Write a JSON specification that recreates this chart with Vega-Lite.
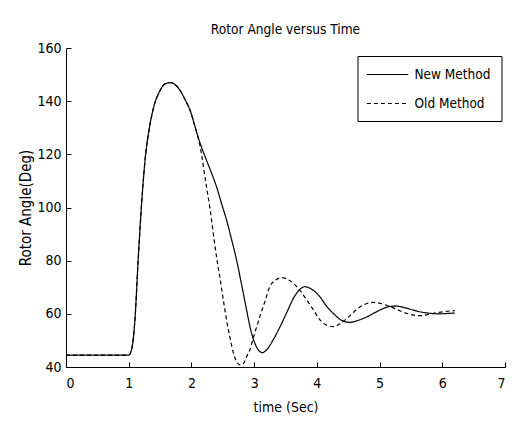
{
  "$schema": "https://vega.github.io/schema/vega-lite/v6.json",
  "width": 439,
  "height": 319,
  "autosize": {"type": "none"},
  "padding": {"left": 66, "top": 48, "right": 12, "bottom": 62},
  "background": "white",
  "title": {
    "text": "Rotor Angle versus Time",
    "font": "DejaVu Sans Condensed, Liberation Sans, sans-serif",
    "fontSize": 13.6,
    "fontWeight": "normal",
    "color": "black",
    "offset": 4
  },
  "config": {
    "view": {"stroke": null},
    "axis": {
      "grid": false,
      "domainColor": "black",
      "tickColor": "black",
      "labelColor": "black",
      "titleColor": "black",
      "labelFont": "DejaVu Sans Condensed, Liberation Sans, sans-serif",
      "labelFontSize": 14,
      "titleFont": "DejaVu Sans Condensed, Liberation Sans, sans-serif",
      "titleFontSize": 14,
      "titleFontWeight": "normal",
      "tickSize": -5
    }
  },
  "data": {
    "values": [
      {"t": 0, "v": 44.5, "method": "New Method"},
      {"t": 1.0, "v": 44.5, "method": "New Method"},
      {"t": 1.05, "v": 47, "method": "New Method"},
      {"t": 1.1, "v": 58, "method": "New Method"},
      {"t": 1.15, "v": 80, "method": "New Method"},
      {"t": 1.21, "v": 103, "method": "New Method"},
      {"t": 1.27, "v": 120, "method": "New Method"},
      {"t": 1.33, "v": 130, "method": "New Method"},
      {"t": 1.39, "v": 137, "method": "New Method"},
      {"t": 1.5, "v": 144, "method": "New Method"},
      {"t": 1.58, "v": 146.5, "method": "New Method"},
      {"t": 1.67, "v": 147, "method": "New Method"},
      {"t": 1.75, "v": 146, "method": "New Method"},
      {"t": 1.82, "v": 144, "method": "New Method"},
      {"t": 1.9, "v": 140.5, "method": "New Method"},
      {"t": 1.98, "v": 136.5, "method": "New Method"},
      {"t": 2.05, "v": 131, "method": "New Method"},
      {"t": 2.12, "v": 125.5, "method": "New Method"},
      {"t": 2.24, "v": 117.8, "method": "New Method"},
      {"t": 2.32, "v": 113, "method": "New Method"},
      {"t": 2.4, "v": 107.8, "method": "New Method"},
      {"t": 2.48, "v": 101.5, "method": "New Method"},
      {"t": 2.56, "v": 95.3, "method": "New Method"},
      {"t": 2.64, "v": 88, "method": "New Method"},
      {"t": 2.72, "v": 80.2, "method": "New Method"},
      {"t": 2.8, "v": 71, "method": "New Method"},
      {"t": 2.88, "v": 61.4, "method": "New Method"},
      {"t": 2.95, "v": 53.5, "method": "New Method"},
      {"t": 3.01, "v": 49, "method": "New Method"},
      {"t": 3.07, "v": 46.3, "method": "New Method"},
      {"t": 3.13, "v": 45.4, "method": "New Method"},
      {"t": 3.2, "v": 46.5, "method": "New Method"},
      {"t": 3.31, "v": 50.5, "method": "New Method"},
      {"t": 3.41, "v": 55, "method": "New Method"},
      {"t": 3.52, "v": 60.5, "method": "New Method"},
      {"t": 3.63, "v": 66, "method": "New Method"},
      {"t": 3.72, "v": 69, "method": "New Method"},
      {"t": 3.81, "v": 70.2, "method": "New Method"},
      {"t": 3.9, "v": 69.5, "method": "New Method"},
      {"t": 4.05, "v": 66.4, "method": "New Method"},
      {"t": 4.15, "v": 63, "method": "New Method"},
      {"t": 4.26, "v": 60.2, "method": "New Method"},
      {"t": 4.4, "v": 57.5, "method": "New Method"},
      {"t": 4.53, "v": 56.8, "method": "New Method"},
      {"t": 4.65, "v": 57.5, "method": "New Method"},
      {"t": 4.8, "v": 58.9, "method": "New Method"},
      {"t": 4.93, "v": 60.5, "method": "New Method"},
      {"t": 5.06, "v": 62, "method": "New Method"},
      {"t": 5.17, "v": 62.8, "method": "New Method"},
      {"t": 5.27, "v": 62.9, "method": "New Method"},
      {"t": 5.4, "v": 62.3, "method": "New Method"},
      {"t": 5.54, "v": 61.4, "method": "New Method"},
      {"t": 5.68, "v": 60.6, "method": "New Method"},
      {"t": 5.81, "v": 60.2, "method": "New Method"},
      {"t": 5.95, "v": 60, "method": "New Method"},
      {"t": 6.12, "v": 60.2, "method": "New Method"},
      {"t": 6.2, "v": 60.3, "method": "New Method"},
      {"t": 0, "v": 44.5, "method": "Old Method"},
      {"t": 1.0, "v": 44.5, "method": "Old Method"},
      {"t": 1.05, "v": 47, "method": "Old Method"},
      {"t": 1.1, "v": 58, "method": "Old Method"},
      {"t": 1.15, "v": 80, "method": "Old Method"},
      {"t": 1.21, "v": 103, "method": "Old Method"},
      {"t": 1.27, "v": 120, "method": "Old Method"},
      {"t": 1.33, "v": 130, "method": "Old Method"},
      {"t": 1.39, "v": 137, "method": "Old Method"},
      {"t": 1.5, "v": 144, "method": "Old Method"},
      {"t": 1.58, "v": 146.5, "method": "Old Method"},
      {"t": 1.67, "v": 147, "method": "Old Method"},
      {"t": 1.75, "v": 146, "method": "Old Method"},
      {"t": 1.82, "v": 144, "method": "Old Method"},
      {"t": 1.9, "v": 140.5, "method": "Old Method"},
      {"t": 1.98, "v": 136.5, "method": "Old Method"},
      {"t": 2.05, "v": 131, "method": "Old Method"},
      {"t": 2.14, "v": 122.8, "method": "Old Method"},
      {"t": 2.24, "v": 107.8, "method": "Old Method"},
      {"t": 2.3, "v": 99, "method": "Old Method"},
      {"t": 2.35, "v": 90, "method": "Old Method"},
      {"t": 2.4, "v": 81.5, "method": "Old Method"},
      {"t": 2.46, "v": 72.7, "method": "Old Method"},
      {"t": 2.51, "v": 65, "method": "Old Method"},
      {"t": 2.56, "v": 57.7, "method": "Old Method"},
      {"t": 2.62, "v": 50.5, "method": "Old Method"},
      {"t": 2.67, "v": 45.2, "method": "Old Method"},
      {"t": 2.72, "v": 42, "method": "Old Method"},
      {"t": 2.78, "v": 40.7, "method": "Old Method"},
      {"t": 2.83, "v": 41.3, "method": "Old Method"},
      {"t": 2.88, "v": 43.9, "method": "Old Method"},
      {"t": 2.93, "v": 46.4, "method": "Old Method"},
      {"t": 3.0, "v": 52, "method": "Old Method"},
      {"t": 3.09, "v": 58.9, "method": "Old Method"},
      {"t": 3.17, "v": 64.5, "method": "Old Method"},
      {"t": 3.25, "v": 70.2, "method": "Old Method"},
      {"t": 3.34, "v": 72.7, "method": "Old Method"},
      {"t": 3.44, "v": 73.6, "method": "Old Method"},
      {"t": 3.53, "v": 73, "method": "Old Method"},
      {"t": 3.63, "v": 71.4, "method": "Old Method"},
      {"t": 3.74, "v": 68.5, "method": "Old Method"},
      {"t": 3.84, "v": 65.2, "method": "Old Method"},
      {"t": 3.95, "v": 61.3, "method": "Old Method"},
      {"t": 4.05, "v": 57.7, "method": "Old Method"},
      {"t": 4.15, "v": 55.8, "method": "Old Method"},
      {"t": 4.26, "v": 55.2, "method": "Old Method"},
      {"t": 4.37, "v": 56.3, "method": "Old Method"},
      {"t": 4.48, "v": 58.3, "method": "Old Method"},
      {"t": 4.59, "v": 60.7, "method": "Old Method"},
      {"t": 4.69, "v": 62.7, "method": "Old Method"},
      {"t": 4.8, "v": 63.9, "method": "Old Method"},
      {"t": 4.9, "v": 64.3, "method": "Old Method"},
      {"t": 5.03, "v": 63.8, "method": "Old Method"},
      {"t": 5.17, "v": 62.7, "method": "Old Method"},
      {"t": 5.3, "v": 61.4, "method": "Old Method"},
      {"t": 5.43, "v": 60.2, "method": "Old Method"},
      {"t": 5.55, "v": 59.5, "method": "Old Method"},
      {"t": 5.65, "v": 59.3, "method": "Old Method"},
      {"t": 5.78, "v": 59.8, "method": "Old Method"},
      {"t": 5.91, "v": 60.4, "method": "Old Method"},
      {"t": 6.05, "v": 60.9, "method": "Old Method"},
      {"t": 6.2, "v": 61.2, "method": "Old Method"}
    ]
  },
  "mark": {"type": "line", "color": "black", "strokeWidth": 1.2, "interpolate": "monotone"},
  "encoding": {
    "x": {
      "field": "t",
      "type": "quantitative",
      "scale": {"domain": [0, 7], "nice": false},
      "axis": {"title": "time (Sec)", "values": [0, 1, 2, 3, 4, 5, 6, 7], "labelPadding": 14, "titlePadding": 10}
    },
    "y": {
      "field": "v",
      "type": "quantitative",
      "scale": {"domain": [40, 160], "nice": false, "zero": false},
      "axis": {
        "title": "Rotor Angle(Deg)",
        "titleFontSize": 15,
        "values": [40, 60, 80, 100, 120, 140, 160],
        "labelPadding": 10,
        "titlePadding": 3
      }
    },
    "strokeDash": {
      "field": "method",
      "type": "nominal",
      "scale": {"domain": ["New Method", "Old Method"], "range": [[1, 0], [4, 3]]},
      "legend": {
        "title": null,
        "orient": "none",
        "legendX": 291.5,
        "legendY": 8,
        "padding": 10.5,
        "strokeColor": "black",
        "fillColor": "white",
        "symbolType": "M-1.3,0H4.6",
        "symbolSize": 196,
        "symbolStrokeColor": "black",
        "symbolStrokeWidth": 1.2,
        "labelFont": "DejaVu Sans Condensed, Liberation Sans, sans-serif",
        "labelFontSize": 13.5,
        "labelColor": "black",
        "labelOffset": 30.5,
        "rowPadding": 14
      }
    }
  }
}
